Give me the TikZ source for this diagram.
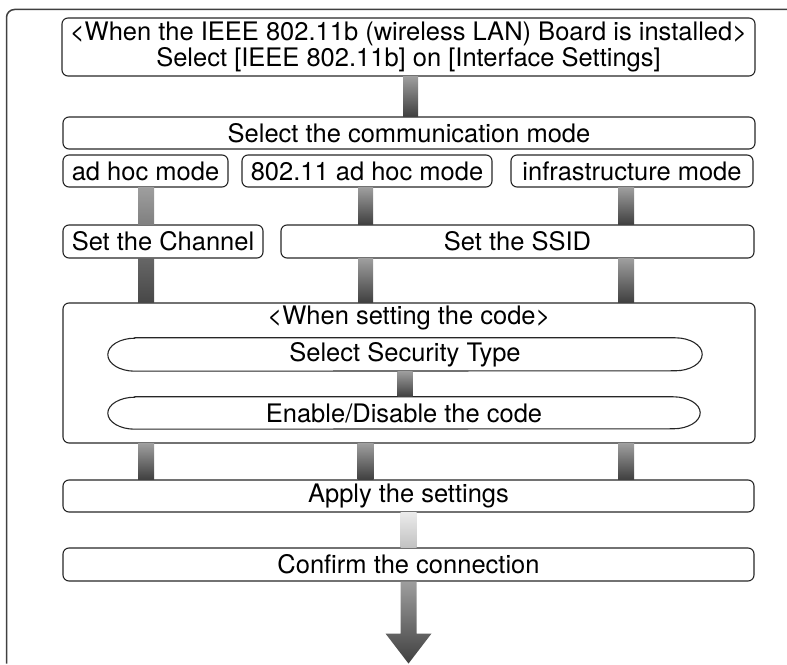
\documentclass[tikz,border=0pt]{standalone}
\usepackage{fontspec}
\setmainfont{TeX Gyre Heros}
\usetikzlibrary{calc}

\tikzset{
  box/.style={draw=black!85, line width=1.1pt, rounded corners=6pt, inner sep=0pt,
    font=\fontsize{25.5}{24}\selectfont, align=center},
  capsule/.style={inner sep=0pt, font=\fontsize{25.5}{24}\selectfont},
  label/.style={inner sep=0pt, font=\fontsize{25.5}{24}\selectfont},
  bar/.style={top color=black!38, bottom color=black!75},
  flatbar/.style={top color=black!38, bottom color=black!50},
  darkbar/.style={top color=black!60, bottom color=black!72},
  lightbar/.style={top color=black!8, bottom color=black!24},
  frame/.style={draw=black!75, line width=1.5pt, rounded corners=8pt}
}

\begin{document}
\begin{tikzpicture}[x=1pt,y=1pt]
\useasboundingbox (0,0) rectangle (787,664);
\draw[frame] (6.5,0.5) -- (6.5,654.5) -- (787,654.5);

% boxes
\node[box, minimum width=693pt, minimum height=58pt] (board) at (408.5,617)
  {<When the IEEE 802.11b (wireless LAN) Board is installed>\\Select [IEEE 802.11b] on [Interface Settings]};
\node[box, minimum width=692pt, minimum height=32pt] (commmode) at (409,531) {Select the communication mode};
\node[box, minimum width=165pt, minimum height=32pt] (adhoc) at (145.5,493) {ad hoc mode};
\node[box, minimum width=250pt, minimum height=32pt] (adhocb) at (367,493) {802.11 ad hoc mode};
\node[box, minimum width=242pt, minimum height=32pt] (infra) at (632,493) {infrastructure mode};
\node[box, minimum width=200pt, minimum height=33pt] (channel) at (163,422.5) {Set the Channel};
\node[box, minimum width=473pt, minimum height=33pt] (ssid) at (517.5,422.5) {Set the SSID};
\node[box, minimum width=692pt, minimum height=140pt] (code) at (409,291) {};
\node[label] (codetitle) at (409,346) {<When setting the code>};
\node[capsule, minimum width=594pt, minimum height=33pt] (sectype) at (405,309.5) {Select Security Type};
\node[capsule, minimum width=592pt, minimum height=32pt] (enable) at (404,251) {Enable/Disable the code};
\node[box, minimum width=691pt, minimum height=32pt] (apply) at (408.5,168) {Apply the settings};
\node[box, minimum width=691pt, minimum height=33pt] (confirm) at (408.5,99.5) {Confirm the connection};

% capsule outlines
\foreach \n/\h in {sectype/16.5, enable/16} {
  \draw[draw=black!85, line width=1.1pt]
    ([xshift=27pt]\n.north west) -- ([xshift=-27pt]\n.north east)
    arc[start angle=90, end angle=-90, x radius=27pt, y radius=\h pt]
    -- ([xshift=27pt]\n.south west)
    arc[start angle=270, end angle=90, x radius=27pt, y radius=\h pt] -- cycle;
}

% columns of the connectors
\coordinate (c1) at (146,0);
\coordinate (c2) at (365.5,0);
\coordinate (c3) at (626,0);
\coordinate (c0) at (410.5,0);

% connectors
\shade[bar] ($(c0 |- board.south)+(-7.5,0)$) rectangle ($(c0 |- commmode.north)+(7.5,0)$);
\shade[flatbar] ($(c1 |- adhoc.south)+(-8,0)$) rectangle ($(c1 |- channel.north)+(8,0)$);
\shade[bar] ($(c2 |- adhocb.south)+(-7.5,0)$) rectangle ($(c2 |- ssid.north)+(7.5,0)$);
\shade[bar] ($(c3 |- infra.south)+(-8,0)$) rectangle ($(c3 |- ssid.north)+(8,0)$);
\shade[darkbar] ($(c1 |- channel.south)+(-8,0)$) rectangle ($(c1 |- code.north)+(8,0)$);
\shade[bar] ($(c2 |- ssid.south)+(-7.5,0)$) rectangle ($(c2 |- code.north)+(7.5,0)$);
\shade[bar] ($(c3 |- ssid.south)+(-8,0)$) rectangle ($(c3 |- code.north)+(8,0)$);
\shade[bar] ($(sectype.south)+(-7.5,0)$) rectangle ($(sectype.south |- enable.north)+(7.5,0)$);
\foreach \c in {c1,c2,c3}
  \shade[bar] ($(\c |- code.south)+(-8,0)$) rectangle ($(\c |- apply.north)+(8,0)$);
\shade[lightbar] ($(apply.south)+(-8,0)$) rectangle ($(apply.south |- confirm.north)+(8,0)$);

% arrow out
\shade[bar] ($(confirm.south)+(-8,0)$) -- ++(0,-52) -- ++(-15,0) -- ($(confirm.south)+(0,-82)$)
  -- ($(confirm.south)+(23,-52)$) -- ++(-15,0) -- ($(confirm.south)+(8,0)$) -- cycle;
\end{tikzpicture}
\end{document}
